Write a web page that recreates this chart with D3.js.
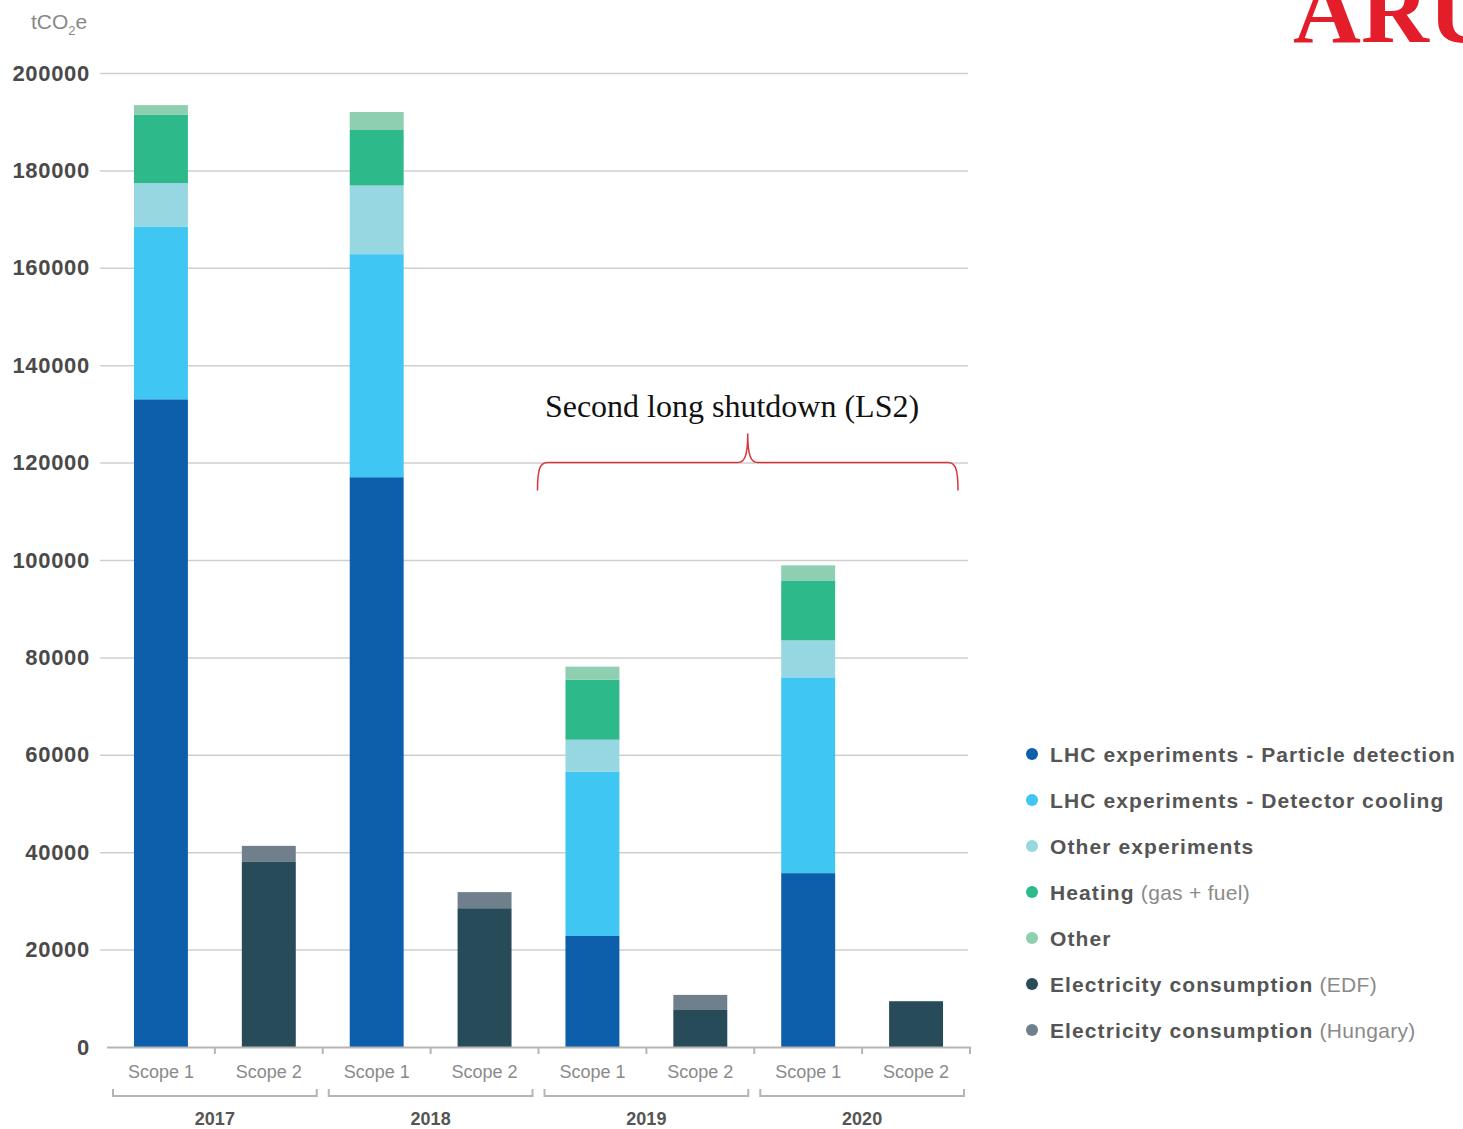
<!DOCTYPE html>
<meta charset="utf-8">
<style>
body {
  font-family: "Liberation Sans", Arial, Helvetica, sans-serif;
  margin: 0;
  background: #fff;
}
html { overflow: hidden; }
.grid line { stroke: #cfcfcf; stroke-width: 1.5px; }
.ytick text { font-size: 22px; font-weight: bold; fill: #4a4a4a; letter-spacing: 0.7px; }
.scope { font-size: 18px; fill: #8a8a8a; text-anchor: middle; }
.year { font-size: 18px; font-weight: bold; fill: #555; text-anchor: middle; }
.legend text { font-size: 21px; font-weight: bold; fill: #555; letter-spacing: 1.1px; }
.legend tspan.light { font-weight: normal; fill: #8a8a8a; letter-spacing: 0.3px; }
</style>
<body>
<script src="https://d3js.org/d3.v7.min.js"></script>
<script>
// data (tCO2e)
var years = ["2017", "2018", "2019", "2020"];
var scopes = ["Scope 1", "Scope 2"];
var yTicks = [0, 20000, 40000, 60000, 80000, 100000, 120000, 140000, 160000, 180000, 200000];

var particleDetection = [133000, 117000, 22800, 35700];
var detectorCooling   = [35400, 45800, 33700, 40200];
var otherExperiments  = [9000, 14100, 6600, 7600];
var heating           = [14000, 11400, 12300, 12300];
var other             = [2000, 3700, 2700, 3100];
var electricityEDF    = [38000, 28500, 7600, 9400];
var electricityHU     = [3300, 3300, 3100, 0];

var series = [
  {key: "pd",  bold: "LHC experiments - Particle detection", light: "", color: "#0d5eab"},
  {key: "dc",  bold: "LHC experiments - Detector cooling", light: "", color: "#40c6f3"},
  {key: "oe",  bold: "Other experiments", light: "", color: "#96d7e1"},
  {key: "ht",  bold: "Heating", light: " (gas + fuel)", color: "#2eb98a"},
  {key: "ot",  bold: "Other", light: "", color: "#8ecfb2"},
  {key: "edf", bold: "Electricity consumption", light: " (EDF)", color: "#284b5a"},
  {key: "hu",  bold: "Electricity consumption", light: " (Hungary)", color: "#6f7f8b"}
];

// one row per bar
var rows = [];
years.forEach(function(y, i) {
  rows.push({id: y + "|" + scopes[0], year: y, scope: scopes[0],
    pd: particleDetection[i], dc: detectorCooling[i], oe: otherExperiments[i],
    ht: heating[i], ot: other[i], edf: 0, hu: 0});
  rows.push({id: y + "|" + scopes[1], year: y, scope: scopes[1],
    pd: 0, dc: 0, oe: 0, ht: 0, ot: 0, edf: electricityEDF[i], hu: electricityHU[i]});
});

var svg = d3.select("body").append("svg").attr("width", 1463).attr("height", 1129);

var x = d3.scaleBand()
  .domain(rows.map(function(d) { return d.id; }))
  .range([107, 970])
  .paddingInner(0.5)
  .paddingOuter(0.25);

var y = d3.scaleLinear().domain([0, 200000]).range([1047, 73]);

// grid + y labels
var yAxis = svg.append("g")
  .attr("class", "grid ytick")
  .attr("transform", "translate(100,0)")
  .call(d3.axisLeft(y).tickValues(yTicks).tickSize(-868).tickPadding(10).tickFormat(d3.format("d")));
yAxis.select(".domain").remove();
yAxis.selectAll(".tick").filter(function(d) { return d === 0; }).select("line").remove();

// unit label
var unit = svg.append("text").attr("x", 31).attr("y", 29)
  .style("font-size", "21px").style("fill", "#888");
unit.append("tspan").text("tCO");
unit.append("tspan").attr("dy", 6).style("font-size", "13px").text("2");
unit.append("tspan").attr("dy", -6).text("e");

// stacked bars
var stack = d3.stack().keys(series.map(function(s) { return s.key; }));
var stacked = stack(rows);

svg.append("g").selectAll("g")
  .data(stacked)
  .join("g")
  .attr("fill", function(d, i) { return series[i].color; })
  .selectAll("rect")
  .data(function(d) { return d; })
  .join("rect")
  .attr("x", function(d) { return x(d.data.id); })
  .attr("y", function(d) { return y(d[1]); })
  .attr("width", x.bandwidth())
  .attr("height", function(d) { return y(d[0]) - y(d[1]); });

// x axis
var step = x.step();
var x0 = x.range()[0], x1 = x.range()[1];
svg.append("line").attr("x1", x0).attr("x2", x1 + 1).attr("y1", 1047.5).attr("y2", 1047.5)
  .attr("stroke", "#b5b5b5").attr("stroke-width", 2);
d3.range(1, rows.length + 1).forEach(function(i) {
  svg.append("line").attr("x1", x0 + i * step).attr("x2", x0 + i * step)
    .attr("y1", 1047).attr("y2", 1054).attr("stroke", "#b5b5b5").attr("stroke-width", 2);
});

svg.append("g").selectAll("text")
  .data(rows)
  .join("text")
  .attr("class", "scope")
  .attr("x", function(d) { return x(d.id) + x.bandwidth() / 2; })
  .attr("y", 1078)
  .text(function(d) { return d.scope; });

// year brackets
years.forEach(function(yr, i) {
  var a = x0 + i * 2 * step + 6, b = x0 + (i + 1) * 2 * step - 6;
  svg.append("path")
    .attr("d", "M" + a + ",1089V1096H" + b + "V1089")
    .attr("fill", "none").attr("stroke", "#b5b5b5").attr("stroke-width", 2);
  svg.append("text").attr("class", "year")
    .attr("x", (a + b) / 2).attr("y", 1125).text(yr);
});

// LS2 annotation
var la = x0 + 4 * step - 1, lb = x1 - 12, by = y(120000), mid = (la + lb) / 2;
svg.append("path")
  .attr("d", "M" + la + "," + (by + 28) + "C" + la + "," + (by + 8) + " " + (la + 2) + "," + by + " " + (la + 10) + "," + by +
    "L" + (mid - 10) + "," + by + "C" + (mid - 3) + "," + by + " " + mid + "," + (by - 7) + " " + mid + "," + (by - 29) +
    "C" + mid + "," + (by - 7) + " " + (mid + 3) + "," + by + " " + (mid + 10) + "," + by +
    "L" + (lb - 10) + "," + by + "C" + (lb - 2) + "," + by + " " + lb + "," + (by + 8) + " " + lb + "," + (by + 28))
  .attr("fill", "none").attr("stroke", "#d9343c").attr("stroke-width", 1.5);
svg.append("text").attr("x", 732).attr("y", 417)
  .attr("text-anchor", "middle")
  .style("font-family", "'Liberation Serif', 'Times New Roman', serif")
  .style("font-size", "32px").style("fill", "#111")
  .text("Second long shutdown (LS2)");

// clipped logo text, top right (cut off in the source too)
svg.append("text").attr("x", 1293).attr("y", 42)
  .style("font-family", "'Liberation Serif', 'Times New Roman', serif")
  .style("font-size", "94px").style("font-weight", "bold").style("fill", "#e31e2a")
  .text("ARUP");

// legend
var legend = svg.append("g").attr("class", "legend").selectAll("g")
  .data(series)
  .join("g")
  .attr("transform", function(d, i) { return "translate(1032," + (754 + i * 46) + ")"; });
legend.append("circle").attr("r", 6).attr("fill", function(d) { return d.color; });
var lt = legend.append("text").attr("x", 18).attr("dy", "0.36em");
lt.append("tspan").text(function(d) { return d.bold; });
lt.append("tspan").attr("class", "light").text(function(d) { return d.light; });
</script>
</body>
